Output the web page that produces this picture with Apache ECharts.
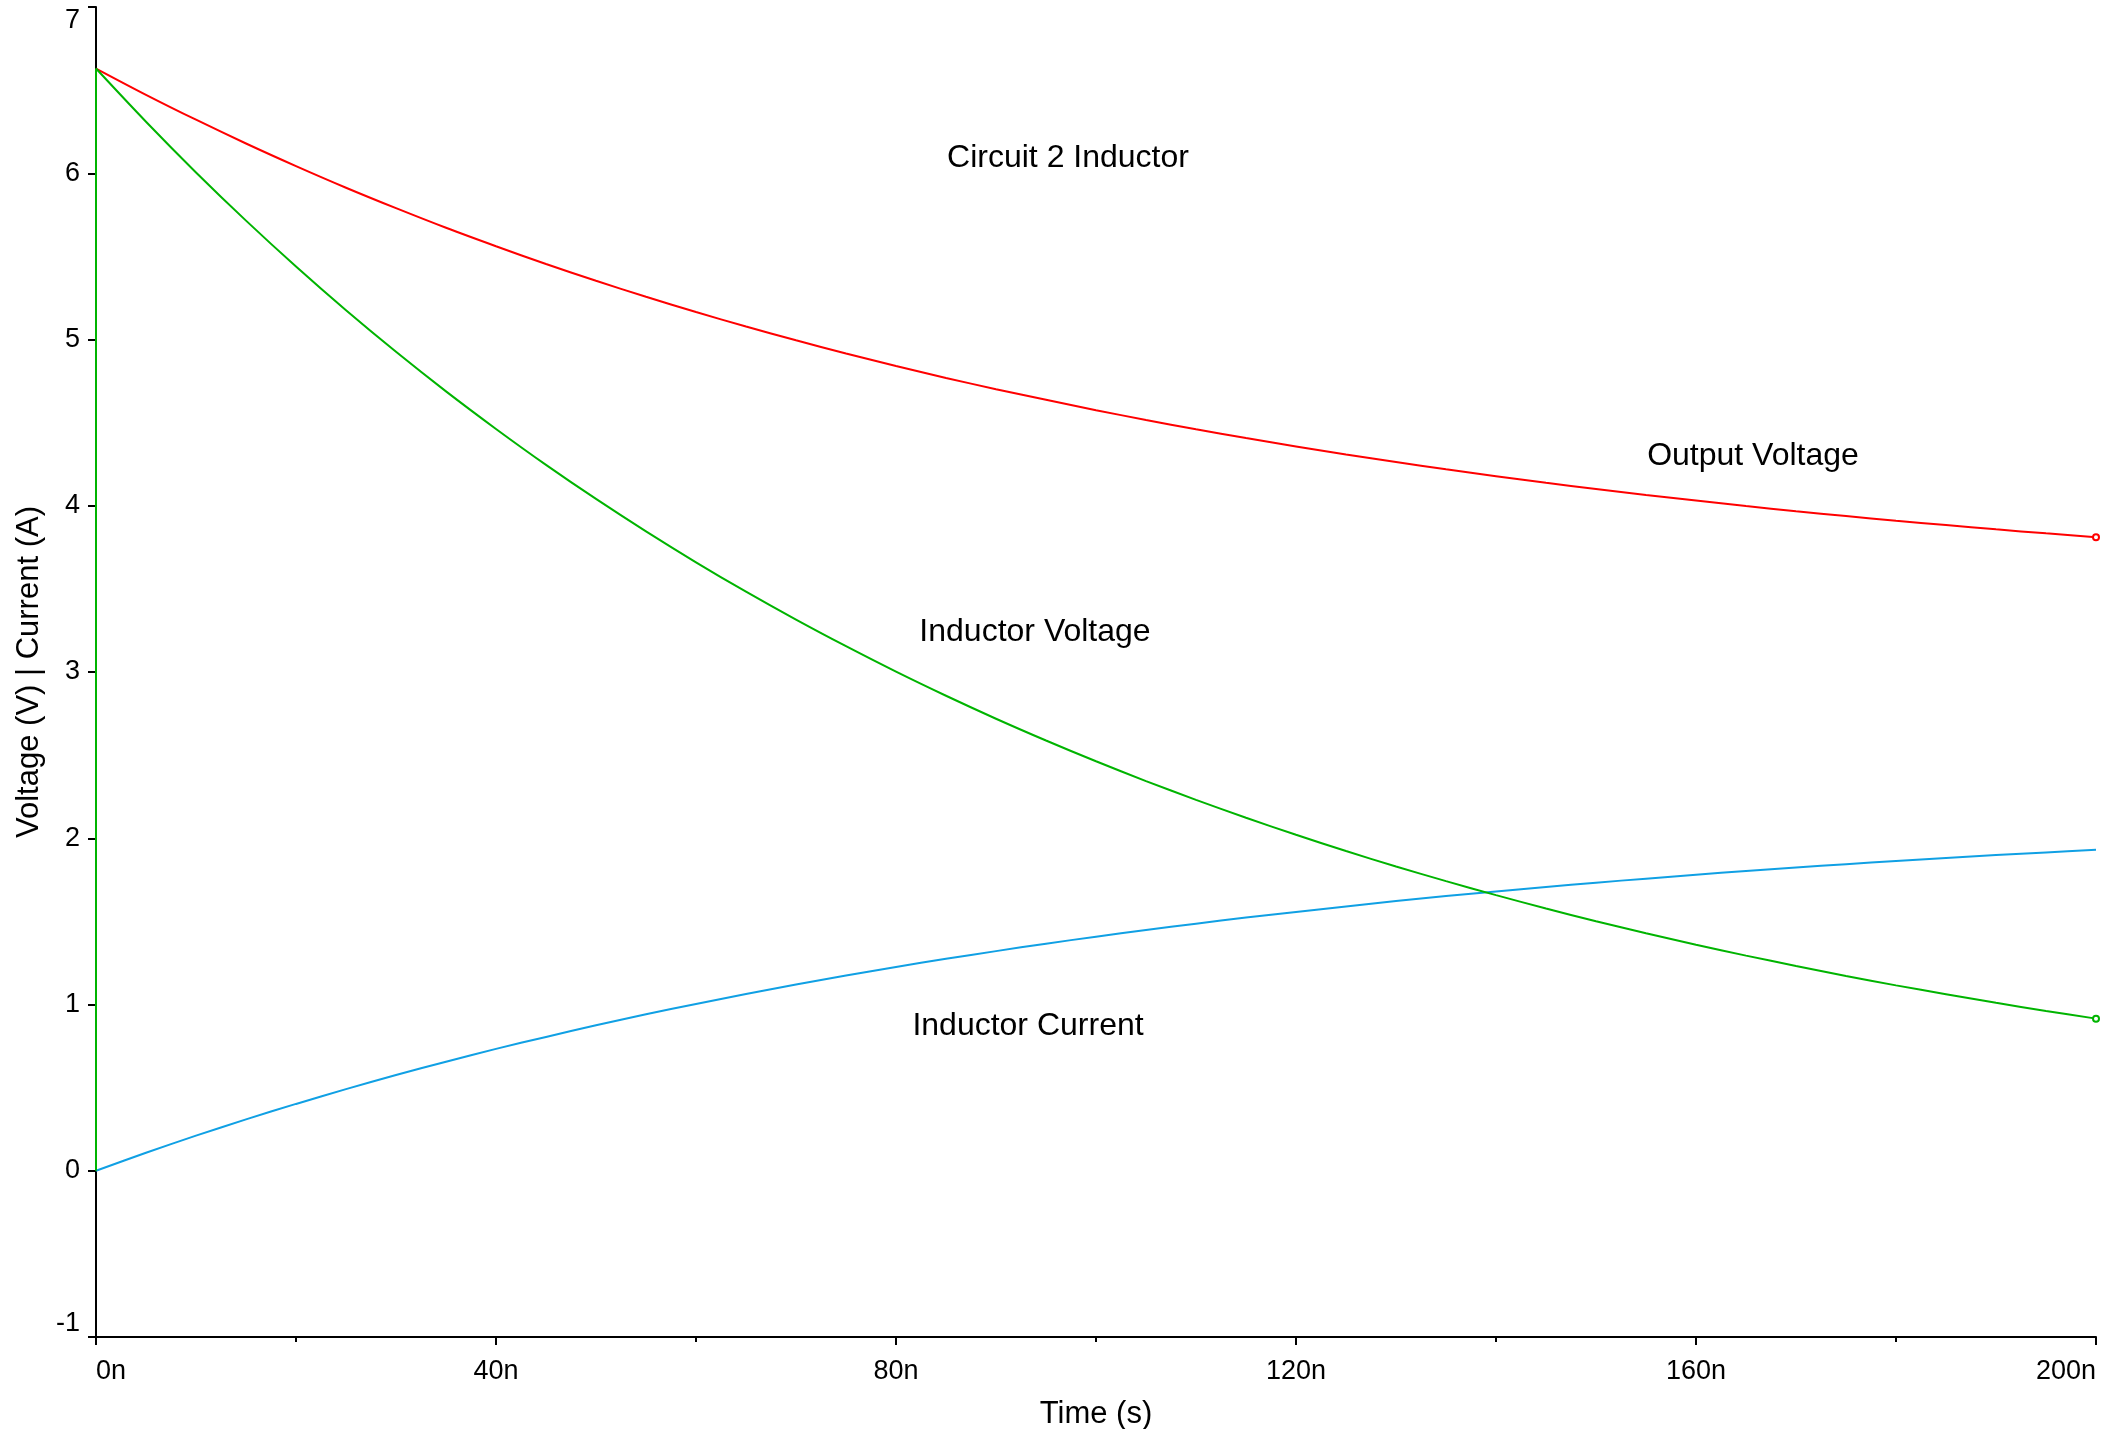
<!DOCTYPE html>
<html>
<head>
<meta charset="utf-8">
<title>Circuit 2 Inductor</title>
<script src="https://cdn.jsdelivr.net/npm/echarts@6.0.0/dist/echarts.min.js"></script>
<style>
  html, body { margin: 0; padding: 0; background: #ffffff; }
  #chart { width: 2105px; height: 1429px; }
</style>
</head>
<body>
<div id="chart"></div>
<script>
// Transient response sampled every 5 ns
const timeNs = [0, 5, 10, 15, 20, 25, 30, 35, 40, 45, 50, 55, 60, 65, 70, 75, 80, 85, 90, 95, 100,
  105, 110, 115, 120, 125, 130, 135, 140, 145, 150, 155, 160, 165, 170, 175, 180, 185, 190, 195, 200];
const outputVoltage = [6.630, 6.472, 6.322, 6.179, 6.043, 5.913, 5.790, 5.672, 5.561, 5.454, 5.353, 5.257, 5.165, 5.078, 4.995, 4.916, 4.841, 4.769, 4.701, 4.637, 4.575,
  4.516, 4.460, 4.407, 4.357, 4.308, 4.263, 4.219, 4.178, 4.138, 4.101, 4.065, 4.031, 3.998, 3.967, 3.938, 3.910, 3.884, 3.858, 3.834, 3.811];
const inductorVoltage = [6.630, 6.310, 6.005, 5.715, 5.439, 5.176, 4.926, 4.688, 4.462, 4.246, 4.041, 3.846, 3.660, 3.483, 3.315, 3.155, 3.002, 2.857, 2.719, 2.588, 2.463,
  2.344, 2.231, 2.123, 2.021, 1.923, 1.830, 1.742, 1.658, 1.577, 1.501, 1.429, 1.360, 1.294, 1.232, 1.172, 1.115, 1.062, 1.010, 0.961, 0.915];
const inductorCurrent = [0.000, 0.108, 0.211, 0.309, 0.402, 0.491, 0.576, 0.656, 0.733, 0.805, 0.875, 0.941, 1.003, 1.063, 1.120, 1.174, 1.226, 1.275, 1.321, 1.366, 1.408,
  1.448, 1.486, 1.523, 1.557, 1.590, 1.622, 1.652, 1.680, 1.707, 1.733, 1.757, 1.781, 1.803, 1.824, 1.844, 1.863, 1.881, 1.899, 1.915, 1.931];
// Inductor voltage steps up from zero at t = 0
const inductorVoltageStep = [0, 6.63];

const timeUnit = 'n';
const xAxisRange = [0, 200];
const xTickStep = 40;
const yAxisRange = [-1, 7];
const yTickStep = 1;

const chartTitle = 'Circuit 2 Inductor';
const xAxisTitle = 'Time (s)';
const yAxisTitle = 'Voltage (V) | Current (A)';

// Curve captions placed in data space [time ns, value]
const captions = [
  { text: chartTitle, t: 97.2, v: 6.09 },
  { text: 'Output Voltage', t: 165.7, v: 4.30 },
  { text: 'Inductor Voltage', t: 93.9, v: 3.24 },
  { text: 'Inductor Current', t: 93.2, v: 0.87 }
];

const COLORS = { output: '#ff0000', voltage: '#00b400', current: '#10a0e4' };
const FONT = '"Liberation Sans", Arial, sans-serif';

function pairs(values) {
  return values.map((v, i) => ({ value: [timeNs[i], v] }));
}
function withEndMarker(data, color) {
  const last = data[data.length - 1];
  last.symbol = 'emptyCircle';
  last.symbolSize = 6;
  last.itemStyle = { color: color, borderColor: color, borderWidth: 1.5 };
  return data;
}

const chart = echarts.init(document.getElementById('chart'), null, { renderer: 'canvas' });

const option = {
  backgroundColor: '#ffffff',
  animation: false,
  grid: { left: 96, right: 9, top: 7, bottom: 92, containLabel: false, outerBoundsMode: 'none' },
  xAxis: {
    type: 'value',
    min: xAxisRange[0],
    max: xAxisRange[1],
    interval: xTickStep,
    name: xAxisTitle,
    nameLocation: 'middle',
    nameGap: 62,
    nameTextStyle: { color: '#000', fontSize: 31, fontFamily: FONT },
    axisLine: { show: true, onZero: false, lineStyle: { color: '#000', width: 2 } },
    axisTick: { show: true, inside: false, length: 8, lineStyle: { color: '#000', width: 2 } },
    minorTick: { show: true, splitNumber: 2, length: 5, lineStyle: { color: '#000', width: 2 } },
    splitLine: { show: false },
    axisLabel: {
      color: '#000', fontSize: 27, fontFamily: FONT, margin: 21,
      alignMinLabel: 'left', alignMaxLabel: 'right',
      formatter: (v) => v + timeUnit
    }
  },
  yAxis: {
    type: 'value',
    min: yAxisRange[0],
    max: yAxisRange[1],
    interval: yTickStep,
    name: yAxisTitle,
    nameLocation: 'middle',
    nameGap: 49,
    nameRotate: 90,
    nameTextStyle: { color: '#000', fontSize: 31, fontFamily: FONT },
    axisLine: { show: true, lineStyle: { color: '#000', width: 2 } },
    axisTick: { show: true, inside: false, length: 8, lineStyle: { color: '#000', width: 2 } },
    splitLine: { show: false },
    axisLabel: {
      color: '#000', fontSize: 27, fontFamily: FONT, margin: 16,
      verticalAlignMinLabel: 'bottom', verticalAlignMaxLabel: 'top'
    }
  },
  series: [
    {
      name: 'Output Voltage',
      type: 'line',
      data: withEndMarker(pairs(outputVoltage), COLORS.output),
      smooth: 0.3,
      symbol: 'none',
      showSymbol: true,
      lineStyle: { color: COLORS.output, width: 2 },
      itemStyle: { color: COLORS.output },
      z: 2
    },
    {
      name: 'Inductor Current',
      type: 'line',
      data: pairs(inductorCurrent),
      smooth: 0.3,
      symbol: 'none',
      lineStyle: { color: COLORS.current, width: 2 },
      itemStyle: { color: COLORS.current },
      z: 3
    },
    {
      name: 'Inductor Voltage',
      type: 'line',
      data: inductorVoltageStep.map((v) => [timeNs[0], v]),
      symbol: 'none',
      lineStyle: { color: COLORS.voltage, width: 2 },
      z: 4
    },
    {
      name: 'Inductor Voltage',
      type: 'line',
      data: withEndMarker(pairs(inductorVoltage), COLORS.voltage),
      smooth: 0.3,
      symbol: 'none',
      showSymbol: true,
      lineStyle: { color: COLORS.voltage, width: 2 },
      itemStyle: { color: COLORS.voltage },
      z: 4
    }
  ]
};

chart.setOption(option);

// Place the captions at their data positions
chart.setOption({
  graphic: captions.map((c) => {
    const p = chart.convertToPixel({ gridIndex: 0 }, [c.t, c.v]);
    return {
      type: 'text',
      x: p[0],
      y: p[1],
      style: {
        text: c.text,
        fill: '#000',
        font: '32px ' + FONT,
        textAlign: 'center',
        textVerticalAlign: 'middle'
      },
      z: 10
    };
  })
});
</script>
</body>
</html>
